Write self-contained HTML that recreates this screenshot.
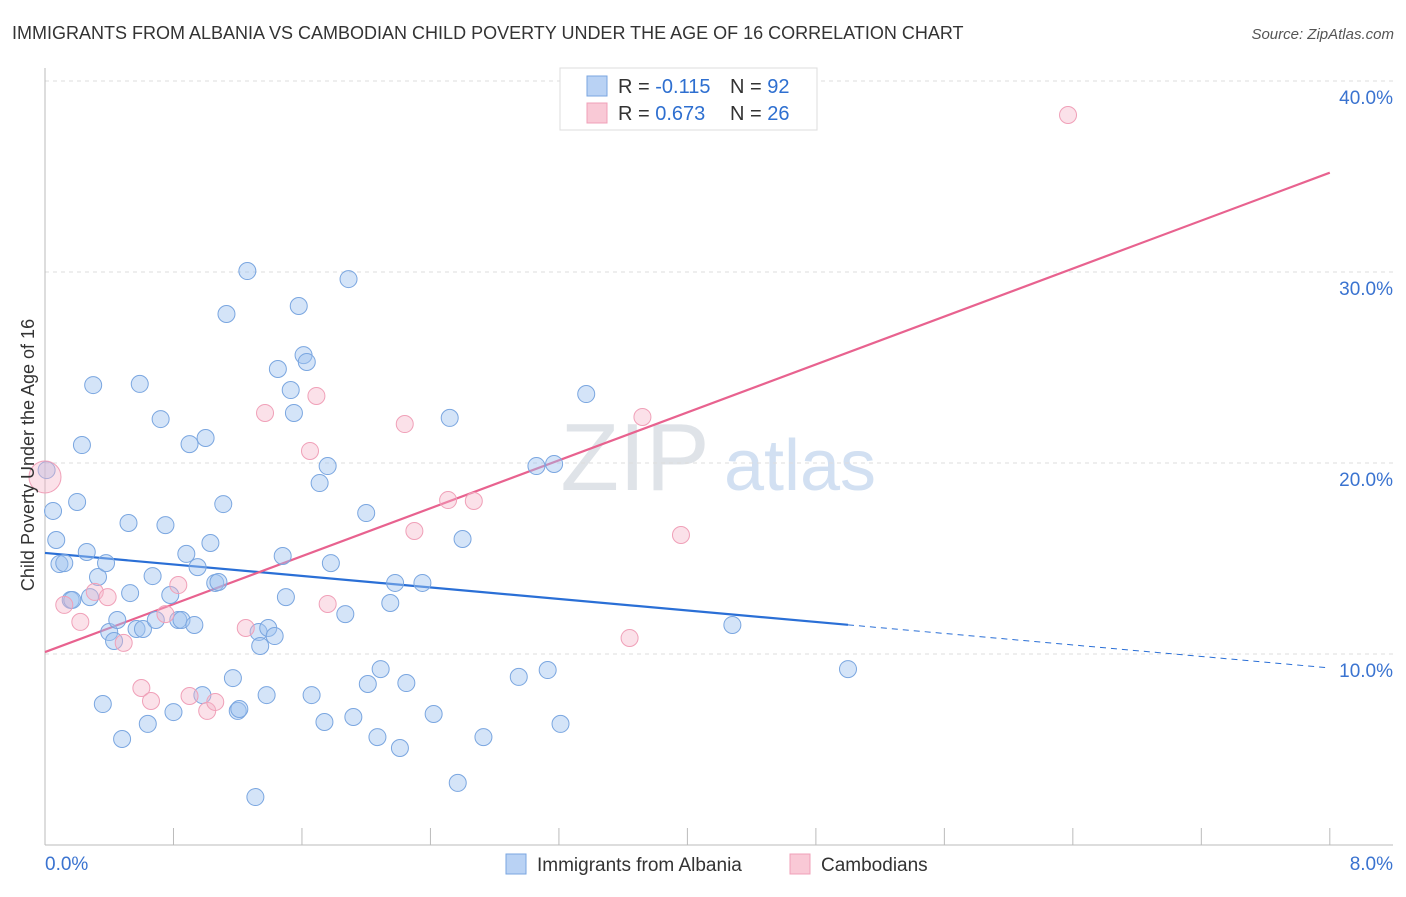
<!DOCTYPE html>
<html><head><meta charset="utf-8"><style>
body{margin:0;background:#fff;font-family:"Liberation Sans",sans-serif;}
svg text{font-family:"Liberation Sans",sans-serif;}
</style></head><body>
<svg id="chart" width="1406" height="892">
<text x="12" y="39" font-size="18" fill="#333">IMMIGRANTS FROM ALBANIA VS CAMBODIAN CHILD POVERTY UNDER THE AGE OF 16 CORRELATION CHART</text>
<text x="1394" y="39" font-size="15" fill="#555" font-style="italic" text-anchor="end">Source: ZipAtlas.com</text>
<text x="635" y="490" font-size="96" fill="#dfe3e8" font-family="Liberation Serif" text-anchor="middle">ZIP</text>
<text x="800" y="490" font-size="72" fill="#d2e0f2" text-anchor="middle">atlas</text>
<g id="grid"></g>
<g id="axes"></g>
<g id="lines"></g>
<g id="points"></g>
<text transform="translate(34,455) rotate(-90)" font-size="18" fill="#333" text-anchor="middle">Child Poverty Under the Age of 16</text>
<g>
<rect x="560" y="68" width="257" height="62" fill="#fff" stroke="#ddd"/>
<rect x="587" y="76" width="20" height="20" fill="#b9d2f4" stroke="#7aa6e0"/>
<rect x="587" y="103" width="20" height="20" fill="#f9c9d6" stroke="#f0a0b8"/>
<text x="618" y="93" font-size="20" fill="#333">R = <tspan fill="#2e6fd0">-0.115</tspan></text>
<text x="730" y="93" font-size="20" fill="#333">N = <tspan fill="#2e6fd0">92</tspan></text>
<text x="618" y="120" font-size="20" fill="#333">R = <tspan fill="#2e6fd0"> 0.673</tspan></text>
<text x="730" y="120" font-size="20" fill="#333">N = <tspan fill="#2e6fd0">26</tspan></text>
</g>
<g>
<rect x="506" y="854" width="20" height="20" fill="#b9d2f4" stroke="#7aa6e0"/>
<text x="537" y="871" font-size="19" fill="#333">Immigrants from Albania</text>
<rect x="790" y="854" width="20" height="20" fill="#f9c9d6" stroke="#f0a0b8"/>
<text x="821" y="871" font-size="19" fill="#333">Cambodians</text>
</g>
</svg>
<script>
const blueX=[0.01,0.05,0.07,0.09,0.12,0.16,0.17,0.20,0.23,0.26,0.28,0.30,0.33,0.36,0.38,0.40,0.43,0.45,0.48,0.52,0.53,0.57,0.59,0.61,0.64,0.67,0.69,0.72,0.75,0.78,0.80,0.83,0.85,0.88,0.90,0.93,0.95,0.98,1.00,1.03,1.06,1.08,1.11,1.13,1.17,1.20,1.21,1.26,1.31,1.33,1.34,1.38,1.39,1.43,1.45,1.48,1.50,1.53,1.55,1.58,1.61,1.63,1.66,1.71,1.74,1.76,1.78,1.87,1.89,1.92,2.00,2.01,2.07,2.09,2.15,2.18,2.21,2.25,2.35,2.42,2.52,2.57,2.60,2.73,2.95,3.06,3.13,3.17,3.21,3.37,4.28,5.00];
const blueY=[19.63,17.49,15.97,14.71,14.76,12.83,12.83,17.96,20.94,15.34,12.98,24.08,14.03,7.38,14.76,11.15,10.68,11.78,5.55,16.86,13.19,11.31,24.14,11.31,6.34,14.08,11.78,22.30,16.75,13.09,6.96,11.78,11.78,15.24,20.99,11.52,14.55,7.85,21.31,15.81,13.72,13.77,17.85,27.80,8.74,7.02,7.12,30.05,2.51,11.15,10.42,7.85,11.36,10.94,24.92,15.13,12.98,23.82,22.62,28.22,25.65,25.29,7.85,18.95,6.44,19.84,14.76,12.09,29.63,6.70,17.38,8.43,5.65,9.21,12.67,13.72,5.08,8.48,13.72,6.86,22.36,3.25,16.02,5.65,8.80,19.84,9.16,19.95,6.34,23.61,11.52,9.21];
const pinkX=[0.00,0.12,0.22,0.31,0.39,0.49,0.60,0.66,0.75,0.83,0.90,1.01,1.06,1.25,1.37,1.65,1.69,1.76,2.24,2.30,2.51,2.67,3.64,3.72,3.96,6.37];
const pinkY=[19.27,12.57,11.68,13.25,12.98,10.58,8.22,7.54,12.09,13.61,7.80,7.02,7.49,11.36,22.62,20.63,23.51,12.62,22.04,16.44,18.06,18.01,10.84,22.41,16.23,38.22];
const blueTrend=[15.29,9.27]; // y at x=0 and x=8
const pinkTrend=[10.1,35.2];
const blueSolidEnd=5.0;
const yTicks=[10,20,30,40];
const xTickLabels=["0.0%","8.0%"];
const NS="http://www.w3.org/2000/svg";
const sx=v=>45+v*160.6, sy=v=>845-v*19.1;
function mk(t,a,p){const e=document.createElementNS(NS,t);for(const k in a)e.setAttribute(k,a[k]);p.appendChild(e);return e;}
const grid=document.getElementById('grid'),axes=document.getElementById('axes'),lines=document.getElementById('lines'),pts=document.getElementById('points');
yTicks.forEach(t=>{
 const l=mk('line',{x1:45,x2:1393,y1:sy(t),y2:sy(t),stroke:'#ddd','stroke-dasharray':'4,4'},grid);
 
 
 const tx=mk('text',{x:1393,y:sy(t)+23,'font-size':19,fill:'#3a73d0','text-anchor':'end'},grid);
 tx.textContent=t.toFixed(1)+'%';
 
 
});
const ax=mk('line',{x1:45,x2:1393,y1:845,y2:845,stroke:'#bbb'},axes);


const ay=mk('line',{x1:45,x2:45,y1:68,y2:845,stroke:'#bbb'},axes);


for(let i=0;i<=10;i++){
 const t=mk('line',{x1:sx(i*0.8),x2:sx(i*0.8),y1:828,y2:845,stroke:'#bbb'},axes);
 
 
}
[[0,'start',45],[8,'end',1393]].forEach((d,i)=>{
 const t=mk('text',{x:d[2],y:870,'font-size':19,fill:'#3a73d0','text-anchor':d[1]},axes);
 t.textContent=xTickLabels[i];
 
 
});
const by=x=>blueTrend[0]+(blueTrend[1]-blueTrend[0])*x/8;
const b1=mk('line',{x1:sx(0),y1:sy(by(0)),x2:sx(blueSolidEnd),y2:sy(by(blueSolidEnd)),stroke:'#2a6fd6','stroke-width':2.2},lines);


const b2=mk('line',{x1:sx(blueSolidEnd),y1:sy(by(blueSolidEnd)),x2:sx(8),y2:sy(by(8)),stroke:'#2a6fd6','stroke-width':1,'stroke-dasharray':'6,5'},lines);


blueX.forEach((x,i)=>{
 const c=mk('circle',{cx:sx(x),cy:sy(blueY[i]),r:8.5,fill:'rgba(160,196,240,0.45)',stroke:'#7aa6e0','stroke-width':1},pts);
 
 
});
pinkX.forEach((x,i)=>{
 const c=mk('circle',{cx:sx(x),cy:sy(pinkY[i]),r:i==0?16:8.5,fill:'rgba(245,180,200,0.4)',stroke:'#f0a0b8','stroke-width':1},pts);
 
 
});
const p1=mk('line',{x1:sx(0),y1:sy(pinkTrend[0]),x2:sx(8),y2:sy(pinkTrend[1]),stroke:'#e8628f','stroke-width':2.2},lines);


</script>
</body></html>
